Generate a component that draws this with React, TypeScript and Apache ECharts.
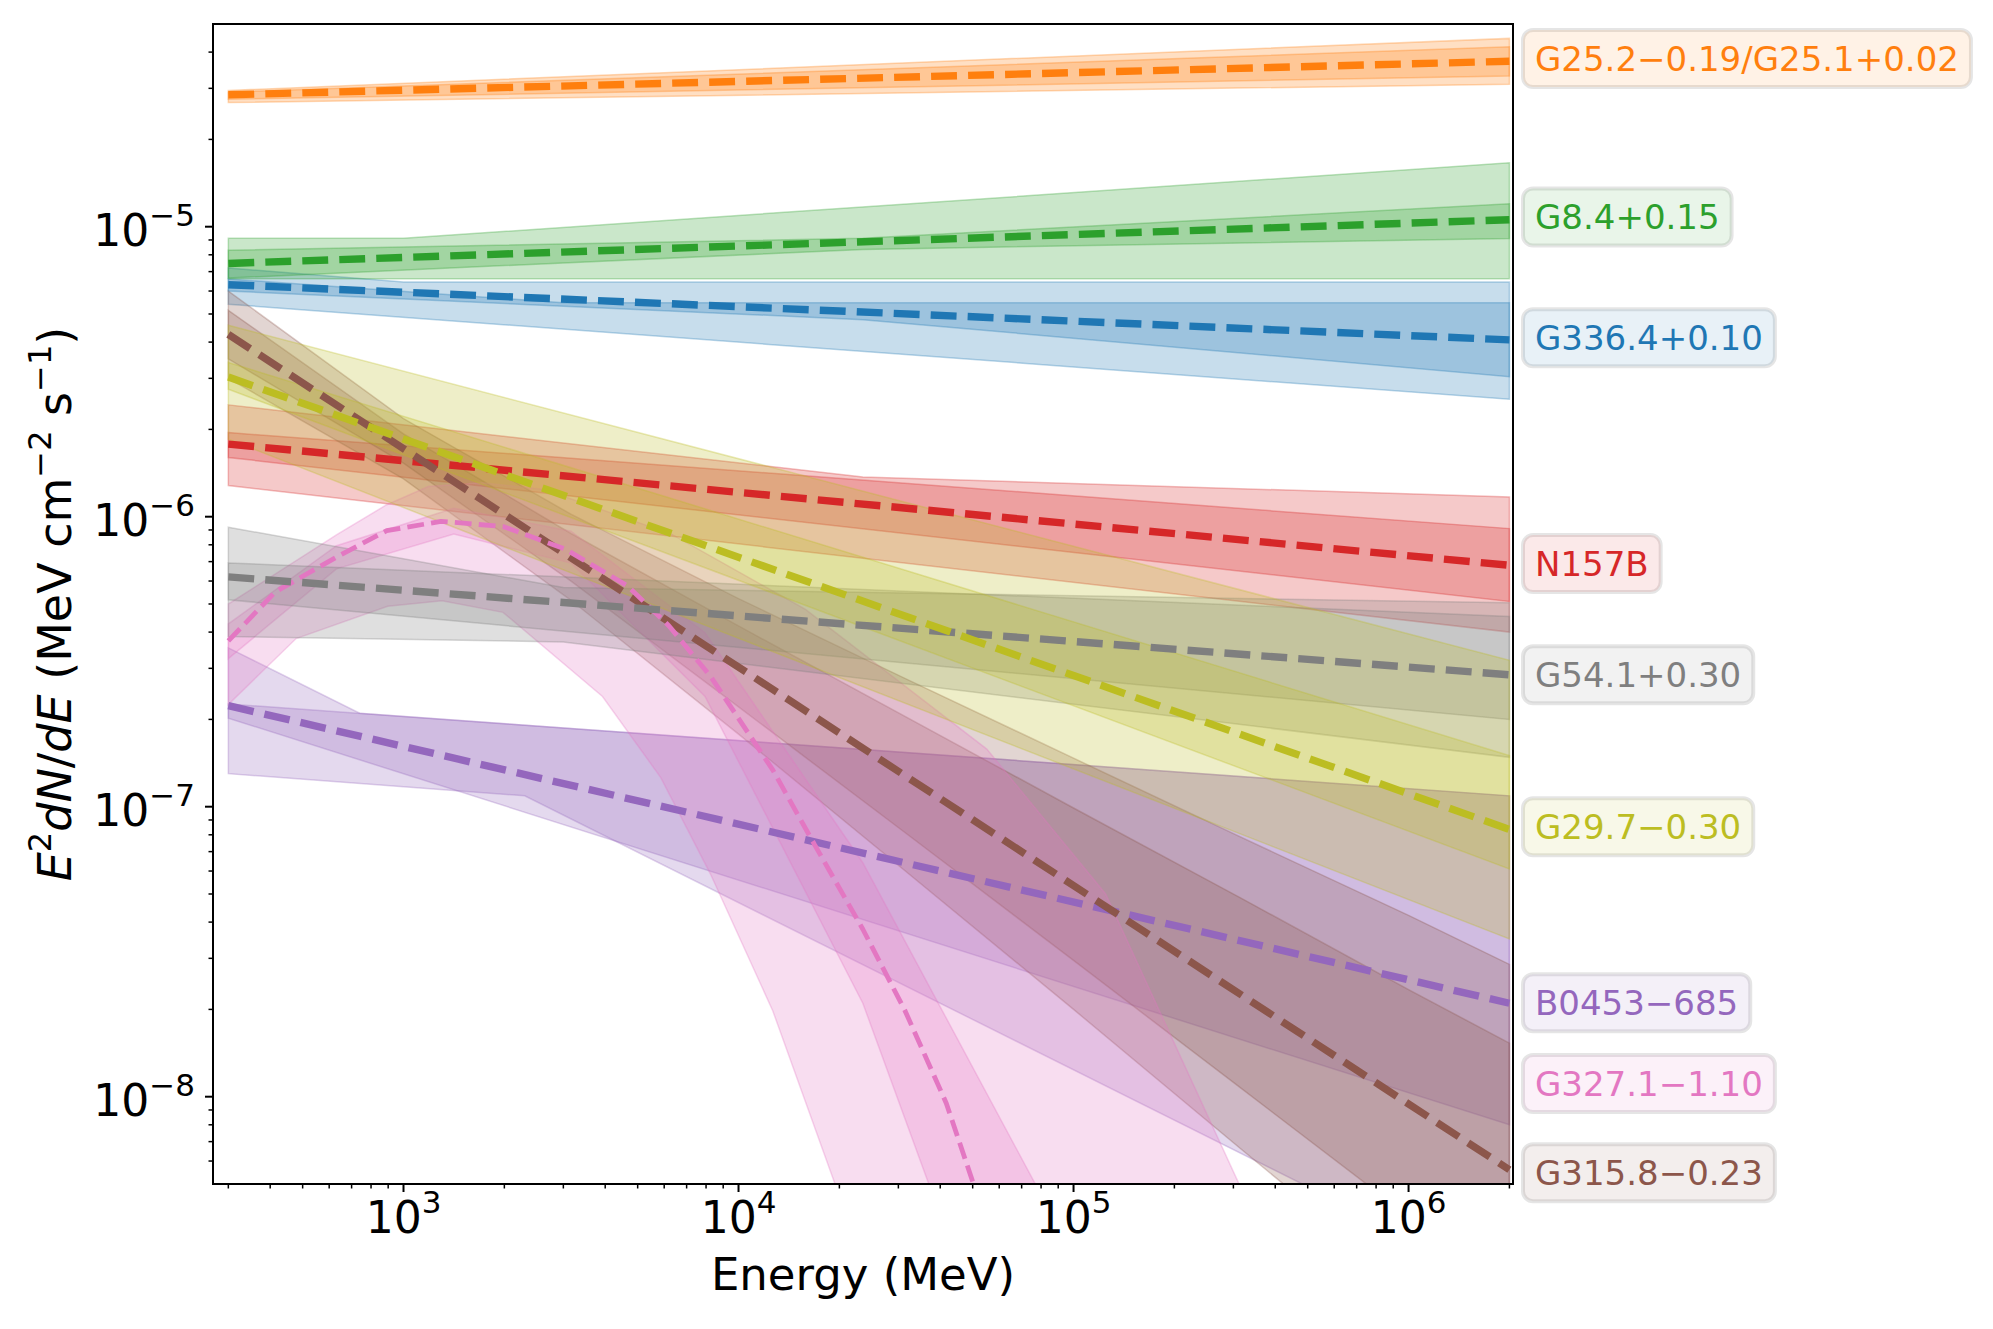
import React, { useEffect, useRef } from 'react';
import * as echarts from 'echarts';

const FONT = 'DejaVu Sans';
const X_MIN = 270;
const X_MAX = 2.05e6;
const Y_MIN = 5e-9;
const Y_MAX = 5e-5;

const X_MAJOR = [1e3, 1e4, 1e5, 1e6];
const Y_MAJOR = [1e-8, 1e-7, 1e-6, 1e-5];
const X_MINOR = [300, 400, 500, 600, 700, 800, 900, 2e3, 3e3, 4e3, 5e3, 6e3, 7e3, 8e3, 9e3, 2e4, 3e4, 4e4, 5e4, 6e4, 7e4, 8e4, 9e4, 2e5, 3e5, 4e5, 5e5, 6e5, 7e5, 8e5, 9e5, 2e6];
const Y_MINOR = [6e-9, 7e-9, 8e-9, 9e-9, 2e-8, 3e-8, 4e-8, 5e-8, 6e-8, 7e-8, 8e-8, 9e-8, 2e-7, 3e-7, 4e-7, 5e-7, 6e-7, 7e-7, 8e-7, 9e-7, 2e-6, 3e-6, 4e-6, 5e-6, 6e-6, 7e-6, 8e-6, 9e-6, 2e-5, 3e-5, 4e-5];

// plotting order (tab10 colour order)
const NAMES = ['G336.4+0.10', 'G25.2\u22120.19/G25.1+0.02', 'G8.4+0.15', 'N157B', 'B0453\u2212685', 'G315.8\u22120.23', 'G327.1\u22121.10', 'G54.1+0.30', 'G29.7\u22120.30'];
const COLORS = ['#1f77b4', '#ff7f0e', '#2ca02c', '#d62728', '#9467bd', '#8c564b', '#e377c2', '#7f7f7f', '#bcbd22'];
const LABEL_Y = [4.14e-6, 3.8e-5, 1.08e-5, 6.89e-7, 2.11e-8, 5.47e-9, 1.11e-8, 2.85e-7, 8.53e-8];

// ---- G336.4+0.10 (blue)
const blueLineE = [300, 2e6];
const blueLine = [6.31e-6, 4.07e-6];
const blueOuterHiE = [300, 1e3, 2e6];
const blueOuterHi = [7.2e-6, 6.45e-6, 6.45e-6];
const blueOuterLoE = [300, 2e6];
const blueOuterLo = [5.4e-6, 2.54e-6];
const blueInnerHiE = [300, 3e3, 2e6];
const blueInnerHi = [6.6e-6, 5.47e-6, 5.47e-6];
const blueInnerLoE = [300, 2.35e4, 2e6];
const blueInnerLo = [6.0e-6, 4.78e-6, 3.04e-6];

// ---- G25.2-0.19/G25.1+0.02 (orange)
const orangeLineE = [300, 2e6];
const orangeLine = [2.85e-5, 3.72e-5];
const orangeE = [300, 2e6];
const orangeOuterHi = [2.95e-5, 4.46e-5];
const orangeOuterLo = [2.68e-5, 3.1e-5];
const orangeInnerHi = [2.91e-5, 4.17e-5];
const orangeInnerLo = [2.75e-5, 3.31e-5];

// ---- G8.4+0.15 (green)
const greenLineE = [300, 2e6];
const greenLine = [7.47e-6, 1.057e-5];
const greenOuterHiE = [300, 1e3, 2e6];
const greenOuterHi = [9.12e-6, 9.12e-6, 1.66e-5];
const greenOuterLoE = [300, 2e6];
const greenOuterLo = [6.62e-6, 6.62e-6];
const greenInnerE = [300, 2.35e4, 2e6];
const greenInnerHi = [8.3e-6, 9.12e-6, 1.2e-5];
const greenInnerLo = [6.65e-6, 8.35e-6, 9.1e-6];

// ---- N157B (red)
const redLineE = [300, 2e6];
const redLine = [1.78e-6, 6.8e-7];
const redOuterHiE = [300, 2.35e4, 2e6];
const redOuterHi = [2.43e-6, 1.37e-6, 1.17e-6];
const redOuterLoE = [300, 2e6];
const redOuterLo = [1.28e-6, 4.0e-7];
const redInnerE = [300, 2e6];
const redInnerHi = [1.95e-6, 9.1e-7];
const redInnerLo = [1.6e-6, 5.1e-7];

// ---- B0453-685 (purple)
const purpleLineE = [300, 2e6];
const purpleLine = [2.23e-7, 2.1e-8];
const purpleOuterHiE = [300, 740, 2e6];
const purpleOuterHi = [3.53e-7, 2.1e-7, 1.09e-7];
const purpleOuterLoE = [300, 2.3e3, 2e6];
const purpleOuterLo = [1.3e-7, 1.09e-7, 2.2e-9];
const purpleInnerE = [300, 2e6];
const purpleInnerHi = [2.26e-7, 1.09e-7];
const purpleInnerLo = [2.02e-7, 8.0e-9];

// ---- G315.8-0.23 (brown)
const brownLineE = [300, 2e6];
const brownLine = [4.25e-6, 5.6e-9];
const brownOuterHiE = [300, 1e3, 3162, 1e4, 3.16e4, 1e5, 3.16e5, 1e6, 2e6];
const brownOuterHi = [6.0e-6, 2.18e-6, 1.02e-6, 5.22e-7, 2.76e-7, 1.47e-7, 7.85e-8, 4.22e-8, 2.86e-8];
const brownOuterLoE = [300, 1e3, 3162, 1e4, 3.16e4, 1e5, 3.16e5, 2e6];
const brownOuterLo = [3.0e-6, 1.35e-6, 5.15e-7, 1.78e-7, 5.98e-8, 2.0e-8, 6.6e-9, 1.14e-9];
const brownInnerHiE = [300, 1e3, 3162, 1e4, 3.16e4, 1e5, 3.16e5, 1e6, 2e6];
const brownInnerHi = [5.15e-6, 1.93e-6, 8.75e-7, 4.2e-7, 2.04e-7, 9.9e-8, 4.84e-8, 2.34e-8, 1.53e-8];
const brownInnerLoE = [300, 1e3, 3162, 1e4, 3.16e4, 1e5, 3.16e5, 2e6];
const brownInnerLo = [3.5e-6, 1.53e-6, 6.0e-7, 2.21e-7, 8.1e-8, 2.95e-8, 1.07e-8, 2.1e-9];

// ---- G327.1-1.10 (pink)
const pinkLineE = [300, 414, 634, 891, 1294, 1982, 3034, 4656, 6194, 8241, 1.265e4, 1.683e4, 2.35e4, 3.14e4, 4.17e4, 5.0e4];
const pinkLine = [3.73e-7, 5.5e-7, 7.28e-7, 8.95e-7, 9.64e-7, 9.25e-7, 7.74e-7, 5.78e-7, 4.21e-7, 2.82e-7, 1.34e-7, 7.43e-8, 3.78e-8, 1.98e-8, 9.5e-9, 5.1e-9];
const pinkOuterHiE = [300, 634, 891, 1186, 1718, 2636, 6310, 1.585e4, 5.51e4, 1.247e5, 3.12e5];
const pinkOuterHi = [5.0e-7, 8.69e-7, 1.1e-6, 1.27e-6, 1.31e-6, 1.24e-6, 8.71e-7, 4.79e-7, 1.58e-7, 5.0e-8, 5.0e-9];
const pinkOuterLoE = [300, 478, 897, 1303, 1982, 3926, 5861, 8241, 1.265e4, 1.941e4];
const pinkOuterLo = [2.25e-7, 3.8e-7, 4.91e-7, 5.13e-7, 4.68e-7, 2.4e-7, 1.26e-7, 5.87e-8, 1.98e-8, 5.0e-9];
const pinkInnerHiE = [300, 631, 1413, 3162, 7943, 2.35e4, 7.69e4];
const pinkInnerHi = [4.27e-7, 7.94e-7, 1.07e-6, 8.91e-7, 3.98e-7, 6.41e-8, 5.0e-9];
const pinkInnerLoE = [300, 631, 1413, 3162, 7943, 2.35e4, 3.698e4];
const pinkInnerLo = [3.24e-7, 6.61e-7, 8.71e-7, 6.92e-7, 2.4e-7, 2.1e-8, 5.0e-9];

// ---- G54.1+0.30 (gray)
const grayLineE = [300, 2e6];
const grayLine = [6.2e-7, 2.85e-7];
const grayOuterE = [300, 3e3, 2e6];
const grayOuterHi = [9.2e-7, 5.7e-7, 5.05e-7];
const grayOuterLo = [3.86e-7, 3.7e-7, 1.48e-7];
const grayInnerE = [300, 2e6];
const grayInnerHi = [6.93e-7, 4.53e-7];
const grayInnerLo = [5.17e-7, 2.0e-7];

// ---- G29.7-0.30 (olive)
const oliveLineE = [300, 2e6];
const oliveLine = [3.03e-6, 8.35e-8];
const oliveE = [300, 2e6];
const oliveOuterHi = [4.57e-6, 3.2e-7];
const oliveOuterLo = [1.85e-6, 3.5e-8];
const oliveInnerHi = [3.4e-6, 1.5e-7];
const oliveInnerLo = [2.75e-6, 6.1e-8];

type Band = { hiE: number[]; hi: number[]; loE: number[]; lo: number[] };
type Src = { lineE: number[]; line: number[]; outer: Band; inner: Band; width: number };

const band = (hiE: number[], hi: number[], loE: number[], lo: number[]): Band => ({ hiE, hi, loE, lo });

const SOURCES: Src[] = [
  { lineE: blueLineE, line: blueLine, outer: band(blueOuterHiE, blueOuterHi, blueOuterLoE, blueOuterLo), inner: band(blueInnerHiE, blueInnerHi, blueInnerLoE, blueInnerLo), width: 7.4 },
  { lineE: orangeLineE, line: orangeLine, outer: band(orangeE, orangeOuterHi, orangeE, orangeOuterLo), inner: band(orangeE, orangeInnerHi, orangeE, orangeInnerLo), width: 7.4 },
  { lineE: greenLineE, line: greenLine, outer: band(greenOuterHiE, greenOuterHi, greenOuterLoE, greenOuterLo), inner: band(greenInnerE, greenInnerHi, greenInnerE, greenInnerLo), width: 7.4 },
  { lineE: redLineE, line: redLine, outer: band(redOuterHiE, redOuterHi, redOuterLoE, redOuterLo), inner: band(redInnerE, redInnerHi, redInnerE, redInnerLo), width: 7.4 },
  { lineE: purpleLineE, line: purpleLine, outer: band(purpleOuterHiE, purpleOuterHi, purpleOuterLoE, purpleOuterLo), inner: band(purpleInnerE, purpleInnerHi, purpleInnerE, purpleInnerLo), width: 7.4 },
  { lineE: brownLineE, line: brownLine, outer: band(brownOuterHiE, brownOuterHi, brownOuterLoE, brownOuterLo), inner: band(brownInnerHiE, brownInnerHi, brownInnerLoE, brownInnerLo), width: 7.4 },
  { lineE: pinkLineE, line: pinkLine, outer: band(pinkOuterHiE, pinkOuterHi, pinkOuterLoE, pinkOuterLo), inner: band(pinkInnerHiE, pinkInnerHi, pinkInnerLoE, pinkInnerLo), width: 4.8 },
  { lineE: grayLineE, line: grayLine, outer: band(grayOuterE, grayOuterHi, grayOuterE, grayOuterLo), inner: band(grayInnerE, grayInnerHi, grayInnerE, grayInnerLo), width: 7.4 },
  { lineE: oliveLineE, line: oliveLine, outer: band(oliveE, oliveOuterHi, oliveE, oliveOuterLo), inner: band(oliveE, oliveInnerHi, oliveE, oliveInnerLo), width: 7.4 },
];

function rgba(hex: string, a: number) {
  const n = parseInt(hex.slice(1), 16);
  return `rgba(${(n >> 16) & 255},${(n >> 8) & 255},${n & 255},${a})`;
}

function powLabel(v: number) {
  const l = Math.log10(v);
  const e = Math.round(l);
  if (Math.abs(l - e) > 1e-6) return '';
  const s = e < 0 ? '\u2212' + -e : String(e);
  return `{b|10}{s|${s}}`;
}

const tickRich = {
  b: { fontSize: 44, fontFamily: FONT, color: '#000', verticalAlign: 'bottom', lineHeight: 52 },
  s: { fontSize: 31, fontFamily: FONT, color: '#000', verticalAlign: 'bottom', lineHeight: 36, padding: [0, 0, 22, 0] },
};

function bandSeries(b: Band, color: string, z: number) {
  return {
    type: 'custom',
    coordinateSystem: 'cartesian2d',
    clip: true,
    silent: true,
    z,
    data: [[1e3, 1e-6]],
    renderItem: (_p: any, api: any) => {
      const pts: number[][] = [];
      for (let i = 0; i < b.hiE.length; i++) pts.push(api.coord([b.hiE[i], b.hi[i]]));
      for (let i = b.loE.length - 1; i >= 0; i--) pts.push(api.coord([b.loE[i], b.lo[i]]));
      return {
        type: 'polygon',
        shape: { points: pts },
        style: { fill: rgba(color, 0.25), stroke: rgba(color, 0.3), lineWidth: 1.5 },
      };
    },
  };
}

export default function App() {
  const ref = useRef<HTMLDivElement>(null);
  useEffect(() => {
    if (!ref.current) return;
    const chart = echarts.init(ref.current, null, { renderer: 'svg' });
    const series: any[] = [];
    SOURCES.forEach((s, i) => {
      series.push(bandSeries(s.outer, COLORS[i], 2));
      series.push(bandSeries(s.inner, COLORS[i], 2));
    });
    SOURCES.forEach((s, i) => {
      series.push({
        type: 'line',
        silent: true,
        z: 4,
        symbol: 'none',
        showSymbol: false,
        clip: true,
        data: s.lineE.map((e, k) => [e, s.line[k]]),
        lineStyle: { color: COLORS[i], width: s.width, type: [s.width * 3.5, s.width * 1.5], cap: 'butt' },
      });
    });
    // frame and ticks
    series.push({
      type: 'custom',
      coordinateSystem: 'cartesian2d',
      clip: false,
      silent: true,
      z: 10,
      data: [[1e3, 1e-6]],
      renderItem: (_p: any, api: any) => {
        const children: any[] = [];
        const tl = api.coord([X_MIN, Y_MAX]);
        const br = api.coord([X_MAX, Y_MIN]);
        children.push({ type: 'rect', shape: { x: tl[0], y: tl[1], width: br[0] - tl[0], height: br[1] - tl[1] }, style: { fill: 'none', stroke: '#000', lineWidth: 2 } });
        const tick = (x1: number, y1: number, x2: number, y2: number, w: number) =>
          children.push({ type: 'line', shape: { x1, y1, x2, y2 }, style: { stroke: '#000', lineWidth: w } });
        X_MAJOR.forEach((v) => { const p = api.coord([v, Y_MIN]); tick(p[0], p[1], p[0], p[1] + 8, 2); });
        X_MINOR.forEach((v) => { const p = api.coord([v, Y_MIN]); tick(p[0], p[1], p[0], p[1] + 4.5, 1.5); });
        Y_MAJOR.forEach((v) => { const p = api.coord([X_MIN, v]); tick(p[0], p[1], p[0] - 8, p[1], 2); });
        Y_MINOR.forEach((v) => { const p = api.coord([X_MIN, v]); tick(p[0], p[1], p[0] - 4.5, p[1], 1.5); });
        return { type: 'group', children };
      },
    });
    // labels at right
    series.push({
      type: 'custom',
      coordinateSystem: 'cartesian2d',
      clip: false,
      silent: true,
      z: 12,
      data: LABEL_Y.map((v) => [X_MAX, v]),
      renderItem: (p: any, api: any) => {
        const i = p.dataIndex;
        const c = api.coord([api.value(0), api.value(1)]);
        return {
          type: 'text',
          x: c[0] + 10,
          y: c[1],
          style: {
            text: NAMES[i],
            fill: COLORS[i],
            fontSize: 34,
            fontFamily: FONT,
            align: 'left',
            verticalAlign: 'middle',
            lineHeight: 40,
            backgroundColor: rgba(COLORS[i], 0.1),
            borderColor: 'rgba(0,0,0,0.1)',
            borderWidth: 2,
            borderRadius: 10,
            padding: [9, 12, 8, 12],
          },
        };
      },
    });

    chart.setOption({
      animation: false,
      backgroundColor: '#fff',
      textStyle: { fontFamily: FONT },
      grid: { left: 213, top: 24, width: 1300, height: 1160, show: false },
      xAxis: {
        type: 'log',
        logBase: 10,
        min: X_MIN,
        max: X_MAX,
        axisLine: { show: false },
        axisTick: { show: false },
        splitLine: { show: false },
        minorTick: { show: false },
        axisLabel: { formatter: powLabel, rich: tickRich, margin: 3, color: '#000' },
        name: 'Energy (MeV)',
        nameLocation: 'middle',
        nameGap: 68,
        nameTextStyle: { fontSize: 45, fontFamily: FONT, color: '#000' },
      },
      yAxis: {
        type: 'log',
        logBase: 10,
        min: Y_MIN,
        max: Y_MAX,
        axisLine: { show: false },
        axisTick: { show: false },
        splitLine: { show: false },
        minorTick: { show: false },
        axisLabel: { formatter: powLabel, rich: tickRich, margin: 18, color: '#000' },
        name: '{i|E}{s|2}{i|dN}{n|/}{i|dE}{n| (MeV cm}{s|\u22122}{n| s}{s|\u22121}{n|)}',
        nameLocation: 'middle',
        nameRotate: 90,
        nameGap: 135,
        nameMoveOverlap: false,
        nameTextStyle: {
          color: '#000',
          fontFamily: FONT,
          fontSize: 46,
          rich: {
            i: { fontSize: 46, fontFamily: FONT, fontStyle: 'italic', color: '#000', verticalAlign: 'bottom', lineHeight: 54 },
            n: { fontSize: 46, fontFamily: FONT, color: '#000', verticalAlign: 'bottom', lineHeight: 54 },
            s: { fontSize: 32, fontFamily: FONT, color: '#000', verticalAlign: 'bottom', lineHeight: 38, padding: [0, 0, 22, 0] },
          },
        },
      },
      series,
    });
    return () => chart.dispose();
  }, []);
  return <div ref={ref} style={{ position: 'fixed', left: 0, top: 0, width: 1993, height: 1329 }} />;
}
